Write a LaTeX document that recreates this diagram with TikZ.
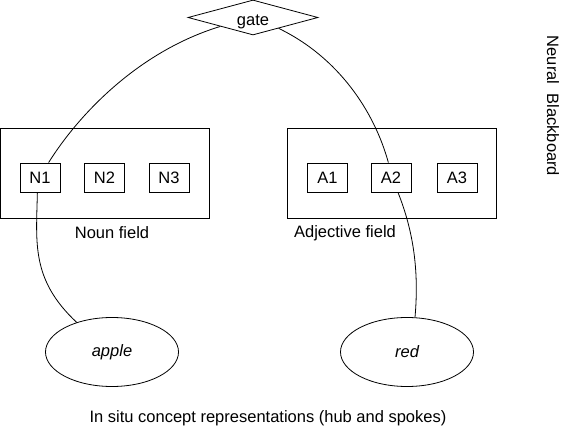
\documentclass[tikz,border=0pt]{standalone}
\usepackage{fontspec}
\setmainfont{Liberation Sans}
\usetikzlibrary{shapes.geometric}

\begin{document}
\begin{tikzpicture}[
    x=1pt, y=-1pt,
    font=\fontsize{16.5}{20}\selectfont,
    field/.style={rectangle,draw,line width=0.8pt,minimum width=209pt,minimum height=90pt,inner sep=0pt},
    unit/.style={rectangle,draw,line width=0.8pt,minimum width=40pt,minimum height=29pt,inner sep=0pt},
    gatenode/.style={diamond,draw,line width=0.8pt,aspect=3.7,minimum width=130pt,minimum height=35pt,inner sep=0pt,text height=16pt,text depth=0pt},
    concept/.style={ellipse,draw,line width=0.8pt,minimum width=133pt,minimum height=69pt,inner sep=0pt,font=\fontsize{16.5}{20}\selectfont\itshape},
    line/.style={line width=0.8pt}
]
\useasboundingbox (0,0) rectangle (561,427);

% Gate
\node[gatenode] (G) at (253,17.5) {gate};

% Fields
\node[field] (NF) at (105,173) {};
\node[field] (AF) at (392,173) {};
\node (NL) at (112,233) {Noun field};
\node (AL) at (345,233) {Adjective field};

% Units
\node[unit] (N1) at (40,177.5) {N1};
\node[unit] (N2) at (104.5,177.5) {N2};
\node[unit] (N3) at (169,177.5) {N3};
\node[unit] (A1) at (327.5,177.5) {A1};
\node[unit] (A2) at (391,177.5) {A2};
\node[unit] (A3) at (457,177.5) {A3};

% Concepts
\node[concept] (AP) at (112,352) {apple};
\node[concept] (RD) at (407,352) {red};

% Labels
\node[rotate=-90] (NB) at (553,106) {Neural\ \ Blackboard};
\node (IS) at (268,418.5) {In situ concept representations (hub and spokes)};

% Links
\draw[line] (G.south west) .. controls +(-82,25) and +(30,-48) .. (N1.60);
\draw[line] (G.-23) .. controls +(60,29) and +(-14,-51) .. (A2.100);
\draw[line] (N1.-100) .. controls +(-1,50) and +(-46,-43) .. (AP.140);
\draw[line] (A2.-65) .. controls +(16,40) and +(4,-45) .. (RD.77);

\end{tikzpicture}
\end{document}
